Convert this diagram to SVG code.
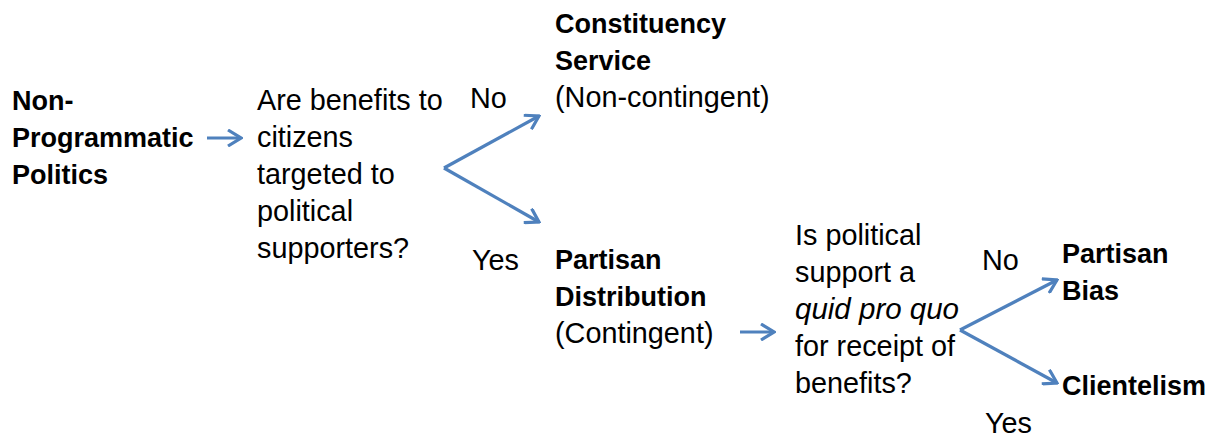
<svg xmlns="http://www.w3.org/2000/svg" width="1210" height="438" viewBox="0 0 1210 438">
<style>
text{font-family:"Liberation Sans",Arial,sans-serif;font-size:28.8px;fill:#000}
.b{font-weight:bold;font-size:27px}
.i{font-style:italic;font-size:29.5px}
.c{stroke:#4F81BD;stroke-width:3.2;fill:none}
</style>
<defs>
<marker id="ah" viewBox="0 0 16 18" refX="14" refY="9" markerWidth="16" markerHeight="18" markerUnits="userSpaceOnUse" orient="auto">
<path d="M1,1 L14,9 L1,17" fill="none" stroke="#4F81BD" stroke-width="3.2"/>
</marker>
</defs>
<rect width="1210" height="438" fill="#fff"/>
<g id="connectors">
<line class="c" x1="207" y1="138" x2="241" y2="138" marker-end="url(#ah)"/>
<path class="c" d="M444,168 L539,116" marker-end="url(#ah)"/>
<path class="c" d="M444,168 L539,222" marker-end="url(#ah)"/>
<line class="c" x1="740" y1="332" x2="774" y2="332" marker-end="url(#ah)"/>
<path class="c" d="M960,330 L1057,280" marker-end="url(#ah)"/>
<path class="c" d="M960,330 L1057,383" marker-end="url(#ah)"/>
</g>
<g id="n-nonprog"><text class="b" x="12" y="110">Non-</text><text class="b" x="12" y="147">Programmatic</text><text class="b" x="12" y="184">Politics</text></g>
<g id="q1"><text x="257" y="110">Are benefits to</text><text x="257" y="147">citizens</text><text x="257" y="184">targeted to</text><text x="257" y="221">political</text><text x="257" y="258">supporters?</text></g>
<g id="l-no1"><text x="470" y="108">No</text></g>
<g id="l-yes1"><text x="472" y="270">Yes</text></g>
<g id="n-const"><text class="b" x="555" y="33">Constituency</text><text class="b" x="555" y="70">Service</text><text x="555" y="107">(Non-contingent)</text></g>
<g id="n-partisan"><text class="b" x="555" y="269">Partisan</text><text class="b" x="555" y="306">Distribution</text><text x="555" y="343">(Contingent)</text></g>
<g id="q2"><text x="795" y="245">Is political</text><text x="795" y="282">support a</text><text class="i" x="795" y="319">quid pro quo</text><text x="795" y="356">for receipt of</text><text x="795" y="393">benefits?</text></g>
<g id="l-no2"><text x="982" y="270">No</text></g>
<g id="n-bias"><text class="b" x="1062" y="263">Partisan</text><text class="b" x="1062" y="300">Bias</text></g>
<g id="n-client"><text class="b" x="1062" y="395">Clientelism</text></g>
<g id="l-yes2"><text x="985" y="433">Yes</text></g>
</svg>
